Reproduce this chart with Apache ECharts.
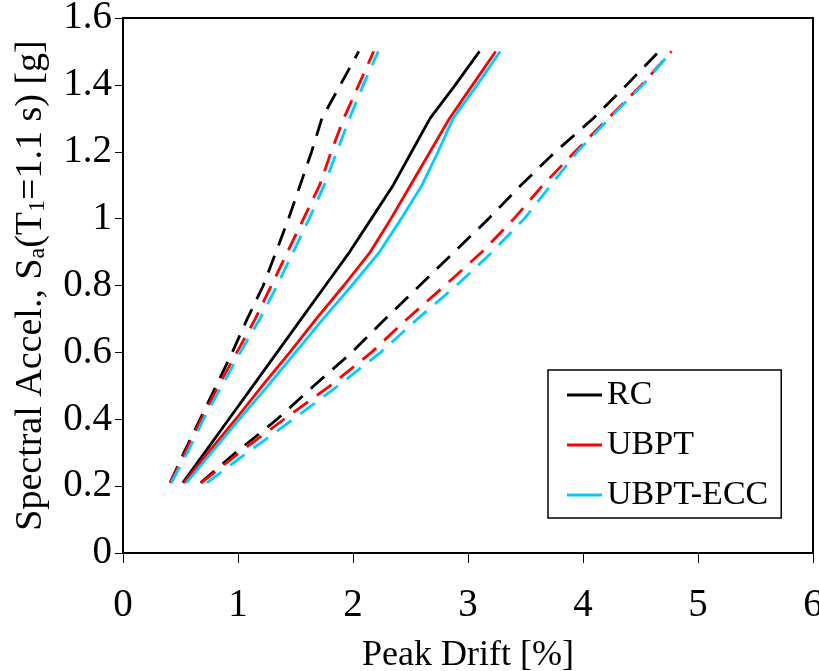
<!DOCTYPE html>
<html>
<head>
<meta charset="utf-8">
<script src="https://cdn.jsdelivr.net/npm/echarts@6/dist/echarts.min.js"></script>
<style>
  html, body { margin: 0; padding: 0; background: #fff; }
  #chart { width: 819px; height: 671px; }
</style>
</head>
<body>
<div id="chart"></div>
<script>
// Sa levels (g) shared by every curve
var saLevels = [0.21, 0.3, 0.4, 0.5, 0.6, 0.7, 0.8, 0.9, 1.0, 1.1, 1.2, 1.3, 1.4, 1.5]

// peak drift (%) at each Sa level, median (solid) and the two dashed bounds
var rcLow = [0.41, 0.53, 0.67, 0.81, 0.95, 1.08, 1.22, 1.33, 1.44, 1.54, 1.64, 1.73, 1.89, 2.05]
var rcMed = [0.52, 0.71, 0.92, 1.13, 1.34, 1.55, 1.76, 1.97, 2.16, 2.35, 2.51, 2.67, 2.89, 3.10]
var rcHigh = [0.675, 0.98, 1.34, 1.66, 1.99, 2.28, 2.58, 2.88, 3.18, 3.46, 3.76, 4.09, 4.38, 4.66]

var ubptLow = [0.41, 0.54, 0.68, 0.83, 0.99, 1.15, 1.29, 1.43, 1.57, 1.71, 1.81, 1.92, 2.05, 2.18]
var ubptMed = [0.53, 0.74, 0.98, 1.21, 1.45, 1.68, 1.92, 2.15, 2.33, 2.50, 2.67, 2.84, 3.04, 3.24]
var ubptHigh = [0.68, 1.01, 1.40, 1.80, 2.16, 2.47, 2.80, 3.12, 3.40, 3.65, 3.93, 4.22, 4.51, 4.77]

var eccLow = [0.42, 0.56, 0.70, 0.86, 1.02, 1.19, 1.34, 1.48, 1.62, 1.75, 1.86, 1.97, 2.09, 2.22]
var eccMed = [0.55, 0.77, 1.01, 1.26, 1.50, 1.74, 1.99, 2.23, 2.42, 2.60, 2.74, 2.87, 3.08, 3.28]
var eccHigh = [0.73, 1.08, 1.48, 1.87, 2.24, 2.56, 2.90, 3.21, 3.49, 3.72, 3.95, 4.23, 4.52, 4.77]

var xTicks = [0, 6, 1]
var yTicks = [0, 1.6, 0.2]

function pairs(drift) {
  return drift.map(function (d, i) { return [d, saLevels[i]] })
}

function curve(name, color, drift, dashed) {
  return {
    name: name,
    type: 'line',
    data: pairs(drift),
    symbol: 'none',
    smooth: false,
    silent: true,
    lineStyle: {
      color: color,
      width: 2.8,
      type: dashed ? [18, 11] : 'solid'
    },
    itemStyle: { color: color }
  }
}

var black = '#000000'
var red = '#ff0000'
var cyan = '#00ccff'
var serif = '"Liberation Serif", "DejaVu Serif", serif'

var chart = echarts.init(document.getElementById('chart'))
var option = {
  animation: false,
  backgroundColor: '#ffffff',
  grid: {
    left: 123,
    top: 18,
    right: 6,
    bottom: 118,
    show: true,
    borderColor: '#000',
    borderWidth: 2,
    containLabel: false,
    outerBoundsMode: 'none'
  },
  legend: {
    data: ['RC', 'UBPT', 'UBPT-ECC'],
    orient: 'vertical',
    left: 548,
    top: 370,
    padding: [8, 13, 6, 19],
    itemGap: 16,
    itemWidth: 35,
    itemHeight: 3,
    icon: 'rect',
    backgroundColor: '#fff',
    borderColor: '#000',
    borderWidth: 1.5,
    textStyle: {
      fontFamily: serif,
      fontSize: 34,
      lineHeight: 34,
      color: '#000'
    }
  },
  xAxis: {
    type: 'value',
    min: xTicks[0],
    max: xTicks[1],
    interval: xTicks[2],
    name: 'Peak Drift [%]',
    nameLocation: 'middle',
    nameGap: 85,
    nameTextStyle: { fontFamily: serif, fontSize: 36, color: '#000' },
    axisLine: { show: true, lineStyle: { color: '#000', width: 2 } },
    axisTick: { show: true, inside: false, length: 10, lineStyle: { color: '#000', width: 1 } },
    axisLabel: { margin: 33, fontFamily: serif, fontSize: 39, color: '#000' },
    splitLine: { show: false }
  },
  yAxis: {
    type: 'value',
    min: yTicks[0],
    max: yTicks[1],
    interval: yTicks[2],
    name: 'Spectral Accel., S{sub|a}(T{sub|1}=1.1 s) [g]',
    nameLocation: 'middle',
    nameGap: 73,
    nameTextStyle: {
      fontFamily: serif,
      fontSize: 38,
      color: '#000',
      rich: {
        sub: { fontFamily: serif, fontSize: 24, lineHeight: 24, verticalAlign: 'bottom', color: '#000' }
      }
    },
    axisLine: { show: true, lineStyle: { color: '#000', width: 2 } },
    axisTick: { show: true, inside: false, length: 8, lineStyle: { color: '#000', width: 1 } },
    axisLabel: { margin: 11, fontFamily: serif, fontSize: 39, color: '#000' },
    splitLine: { show: false }
  },
  series: [
    curve('RC', black, rcMed, false),
    curve('RC low', black, rcLow, true),
    curve('RC high', black, rcHigh, true),
    curve('UBPT', red, ubptMed, false),
    curve('UBPT low', red, ubptLow, true),
    curve('UBPT high', red, ubptHigh, true),
    curve('UBPT-ECC', cyan, eccMed, false),
    curve('UBPT-ECC low', cyan, eccLow, true),
    curve('UBPT-ECC high', cyan, eccHigh, true)
  ]
}
option && chart.setOption(option)
</script>
</body>
</html>
